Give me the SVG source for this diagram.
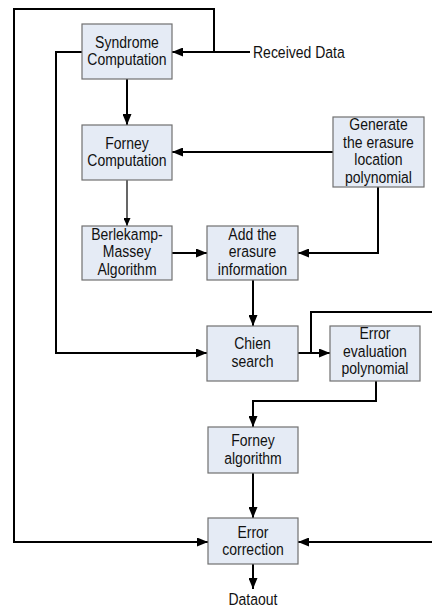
<svg xmlns="http://www.w3.org/2000/svg" width="432" height="607" viewBox="0 0 432 607">
  <style>
    .box { fill: #e5ebf5; stroke: #707070; stroke-width: 1.2; }
    .lbl, .free { font-family: "Liberation Sans", Arial, sans-serif; font-size: 14px; fill: #111;
      transform-box: fill-box; transform-origin: center; transform: scaleY(1.12); }
    .lbl { text-anchor: middle; }
    .wire { fill: none; stroke: #000; stroke-width: 2; }
    .thin { fill: none; stroke: #000; stroke-width: 1.2; }
  </style>
  <defs>
    <marker id="arrow" markerUnits="userSpaceOnUse" markerWidth="11" markerHeight="9" refX="11" refY="4.5" orient="auto">
      <path d="M0,0 L11,4.5 L0,9 z" fill="#000"/>
    </marker>
    <marker id="arrowSmall" markerUnits="userSpaceOnUse" markerWidth="8" markerHeight="7" refX="8" refY="3.5" orient="auto">
      <path d="M0,0 L8,3.5 L0,7 z" fill="#000"/>
    </marker>
  </defs>
  <rect width="432" height="607" fill="#fff"/>

  <!-- connectors -->
  <g id="connectors">
    <path class="wire" d="M250,52 L172,52" marker-end="url(#arrow)"/>
    <path class="wire" d="M214,52 L214,9 L14,9 L14,542 L208,542" marker-end="url(#arrow)"/>
    <path class="wire" d="M82,52 L56,52 L56,353 L207,353" marker-end="url(#arrow)"/>
    <path class="wire" d="M127,79 L127,125" marker-end="url(#arrow)"/>
    <path class="wire" d="M333,152 L172,152" marker-end="url(#arrow)"/>
    <path class="thin" d="M127,180 L127,226" marker-end="url(#arrowSmall)"/>
    <path class="wire" d="M172,253 L207,253" marker-end="url(#arrow)"/>
    <path class="wire" d="M378,187 L378,253 L298,253" marker-end="url(#arrow)"/>
    <path class="wire" d="M253,280 L253,326" marker-end="url(#arrow)"/>
    <path class="wire" d="M298,353 L330,353" marker-end="url(#arrow)"/>
    <path class="wire" d="M311,353 L311,312 L432,312"/>
    <path class="wire" d="M376,381 L376,401 L253,401 L253,427" marker-end="url(#arrow)"/>
    <path class="wire" d="M253,473 L253,518" marker-end="url(#arrow)"/>
    <path class="wire" d="M432,542 L298,542" marker-end="url(#arrow)"/>
    <path class="wire" d="M253,564 L253,589" marker-end="url(#arrow)"/>
  </g>

  <text class="free" x="253" y="57">Received Data</text>
  <text class="lbl" x="253" y="604">Dataout</text>

  <g id="syndrome">
    <rect class="box" x="82" y="24" width="90" height="55"/>
    <text class="lbl" x="127" y="47">Syndrome</text>
    <text class="lbl" x="127" y="64.5">Computation</text>
  </g>
  <g id="forney-computation">
    <rect class="box" x="82" y="125" width="90" height="55"/>
    <text class="lbl" x="127" y="148">Forney</text>
    <text class="lbl" x="127" y="165.5">Computation</text>
  </g>
  <g id="erasure-locator">
    <rect class="box" x="333" y="117" width="91" height="70"/>
    <text class="lbl" x="378.5" y="129.5">Generate</text>
    <text class="lbl" x="378.5" y="147">the erasure</text>
    <text class="lbl" x="378.5" y="164.5">location</text>
    <text class="lbl" x="378.5" y="182">polynomial</text>
  </g>
  <g id="berlekamp-massey">
    <rect class="box" x="82" y="226" width="90" height="54"/>
    <text class="lbl" x="127" y="239">Berlekamp-</text>
    <text class="lbl" x="127" y="256.5">Massey</text>
    <text class="lbl" x="127" y="274">Algorithm</text>
  </g>
  <g id="add-erasure">
    <rect class="box" x="207" y="226" width="91" height="54"/>
    <text class="lbl" x="252.5" y="239">Add the</text>
    <text class="lbl" x="252.5" y="256.5">erasure</text>
    <text class="lbl" x="252.5" y="274">information</text>
  </g>
  <g id="chien-search">
    <rect class="box" x="207" y="326" width="91" height="55"/>
    <text class="lbl" x="252.5" y="348">Chien</text>
    <text class="lbl" x="252.5" y="366">search</text>
  </g>
  <g id="error-evaluator">
    <rect class="box" x="330" y="326" width="90" height="55"/>
    <text class="lbl" x="375" y="338.5">Error</text>
    <text class="lbl" x="375" y="356">evaluation</text>
    <text class="lbl" x="375" y="373.5">polynomial</text>
  </g>
  <g id="forney-algorithm">
    <rect class="box" x="208" y="427" width="90" height="46"/>
    <text class="lbl" x="253" y="445.5">Forney</text>
    <text class="lbl" x="253" y="463">algorithm</text>
  </g>
  <g id="error-correction">
    <rect class="box" x="208" y="518" width="90" height="46"/>
    <text class="lbl" x="253" y="537">Error</text>
    <text class="lbl" x="253" y="554.5">correction</text>
  </g>
</svg>
